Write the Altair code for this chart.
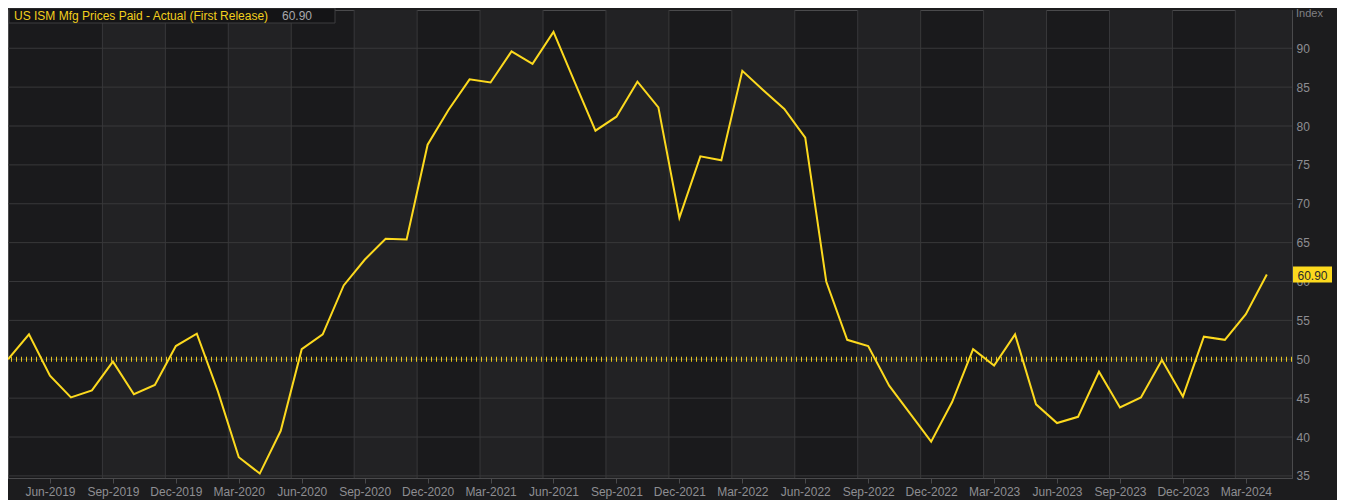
import altair as alt
import pandas as pd

# ---- data -----------------------------------------------------------------
months = pd.date_range("2019-04-01", "2024-04-01", freq="MS").strftime("%b-%Y").tolist()
values = [
    50.0, 53.2, 47.9, 45.1, 46.0, 49.7, 45.5, 46.7, 51.7,
    53.3, 45.9, 37.4, 35.3, 40.8, 51.3, 53.2, 59.5, 62.8, 65.5, 65.4, 77.6,
    82.1, 86.0, 85.6, 89.6, 88.0, 92.1, 85.7, 79.4, 81.2, 85.7, 82.4, 68.2,
    76.1, 75.6, 87.1, 84.6, 82.2, 78.5, 60.0, 52.5, 51.7, 46.6, 43.0, 39.4,
    44.5, 51.3, 49.2, 53.2, 44.2, 41.8, 42.6, 48.4, 43.8, 45.1, 49.9, 45.2,
    52.9, 52.5, 55.8, 60.9,
]
tick_labels = [
    "Jun-2019", "Sep-2019", "Dec-2019", "Mar-2020", "Jun-2020", "Sep-2020",
    "Dec-2020", "Mar-2021", "Jun-2021", "Sep-2021", "Dec-2021", "Mar-2022",
    "Jun-2022", "Sep-2022", "Dec-2022", "Mar-2023", "Jun-2023", "Sep-2023",
    "Dec-2023", "Mar-2024",
]
y_ticks = [35, 40, 45, 50, 55, 60, 65, 70, 75, 80, 85, 90]
ref_level = 50
series_name = "US ISM Mfg Prices Paid - Actual (First Release)"
last_label = "60.90"
y_title = "Index"

# ---- layout / style -------------------------------------------------------
W, H = 1284, 468
X_MAX = 61.2
Y_DOM = [34.73, 94.92]
FONT = "Liberation Sans"
BG = "#1c1c1e"
DARK = "#1a1a1c"
LIGHT = "#222224"
GRID = "#38383a"
AXIS = "#4a4a4c"
LABEL = "#8e8e92"
YELLOW = "#fcd91e"

df = pd.DataFrame({"i": list(range(len(values))), "month": months, "v": values})
tick_idx = [months.index(t) for t in tick_labels]
grid_x = [t - 0.5 for t in tick_idx if t - 0.5 > 3]
bands = pd.DataFrame({"a": grid_x[0::2]})
bands["b"] = (bands["a"] + 3).clip(upper=X_MAX)

xs = alt.Scale(domain=[0, X_MAX], nice=False, zero=False)
ys = alt.Scale(domain=Y_DOM, nice=False, zero=False)

label_expr = "[" + ",".join("'%s'" % t for t in tick_labels) + "][(datum.value - %d) / 3]" % tick_idx[0]

x_axis = alt.Axis(
    values=tick_idx, labelExpr=label_expr, title=None, grid=False,
    labelColor=LABEL, labelFontSize=12, labelFont=FONT, labelPadding=3,
    tickColor=AXIS, tickSize=5, domainColor=AXIS, labelFlush=False,
)
y_axis = alt.Axis(
    orient="right", values=y_ticks, title=None, grid=False, ticks=False,
    labelColor=LABEL, labelFontSize=12, labelFont=FONT, labelPadding=4,
    domainColor=AXIS,
)


def X(field):
    return alt.X(field, scale=xs, axis=x_axis)


def Y(field):
    return alt.Y(field, scale=ys, axis=y_axis)


band_layer = alt.Chart(bands).mark_rect(color=LIGHT).encode(
    x=X("a:Q"), x2="b:Q", y=alt.value(0), y2=alt.value(H),
)
vgrid = alt.Chart(pd.DataFrame({"g": grid_x})).mark_rule(color=GRID, strokeWidth=1).encode(
    x=X("g:Q")
)
hgrid = alt.Chart(pd.DataFrame({"h": y_ticks})).mark_rule(color=GRID, strokeWidth=1).encode(
    y=Y("h:Q")
)
ref = alt.Chart(pd.DataFrame({"r": [ref_level]})).mark_rule(
    color=YELLOW, strokeWidth=5, strokeDash=[1, 4], opacity=0.9
).encode(y=Y("r:Q"))

line = alt.Chart(df).mark_line(color=YELLOW, strokeWidth=2).encode(
    x=X("i:Q"), y=Y("v:Q"),
)

last = df.tail(1).assign(lbl=last_label)
tag = alt.Chart(last).mark_rect(color=YELLOW, yOffset=-8, y2Offset=8).encode(
    x=alt.value(W + 1), x2=alt.value(W + 40), y=Y("v:Q"), y2="v:Q",
)
tag_text = alt.Chart(last).mark_text(
    color="#2a2a2a", fontSize=12, font=FONT, align="center", baseline="middle", dy=1
).encode(x=alt.value(W + 20.5), y=Y("v:Q"), text="lbl:N")

legend_box = alt.Chart(pd.DataFrame({"k": [0]})).mark_rect(
    fill="#141416", stroke="#3c3c3e", strokeWidth=1
).encode(x=alt.value(1), x2=alt.value(327), y=alt.value(-2), y2=alt.value(13))
legend_name = alt.Chart(pd.DataFrame({"t": [series_name]})).mark_text(
    color="#f2cf1d", fontSize=12, font=FONT, align="left", baseline="middle"
).encode(x=alt.value(6), y=alt.value(5.5), text="t:N")
legend_val = alt.Chart(pd.DataFrame({"t": [last_label]})).mark_text(
    color="#a8a8ac", fontSize=12, font=FONT, align="left", baseline="middle"
).encode(x=alt.value(274), y=alt.value(5.5), text="t:N")

index_text = alt.Chart(pd.DataFrame({"t": [y_title]})).mark_text(
    color="#808084", fontSize=11, font=FONT, align="left", baseline="top"
).encode(x=alt.value(W + 4), y=alt.value(-2), text="t:N")

chart = alt.layer(
    line, band_layer, vgrid, hgrid, ref, tag, tag_text,
    legend_box, legend_name, legend_val, index_text,
).properties(
    width=W, height=H,
    autosize=alt.AutoSizeParams(type="none"),
    padding={"left": 0, "top": 2, "right": 45, "bottom": 22},
    background=BG,
).configure_view(
    fill=DARK, stroke=AXIS, strokeWidth=1
)

# draw the line above the background layers
chart.layer = [chart.layer[i] for i in (1, 2, 3, 4, 0, 5, 6, 7, 8, 9, 10)]

chart.save("out.html", embed_options={"renderer": "svg", "actions": False})
